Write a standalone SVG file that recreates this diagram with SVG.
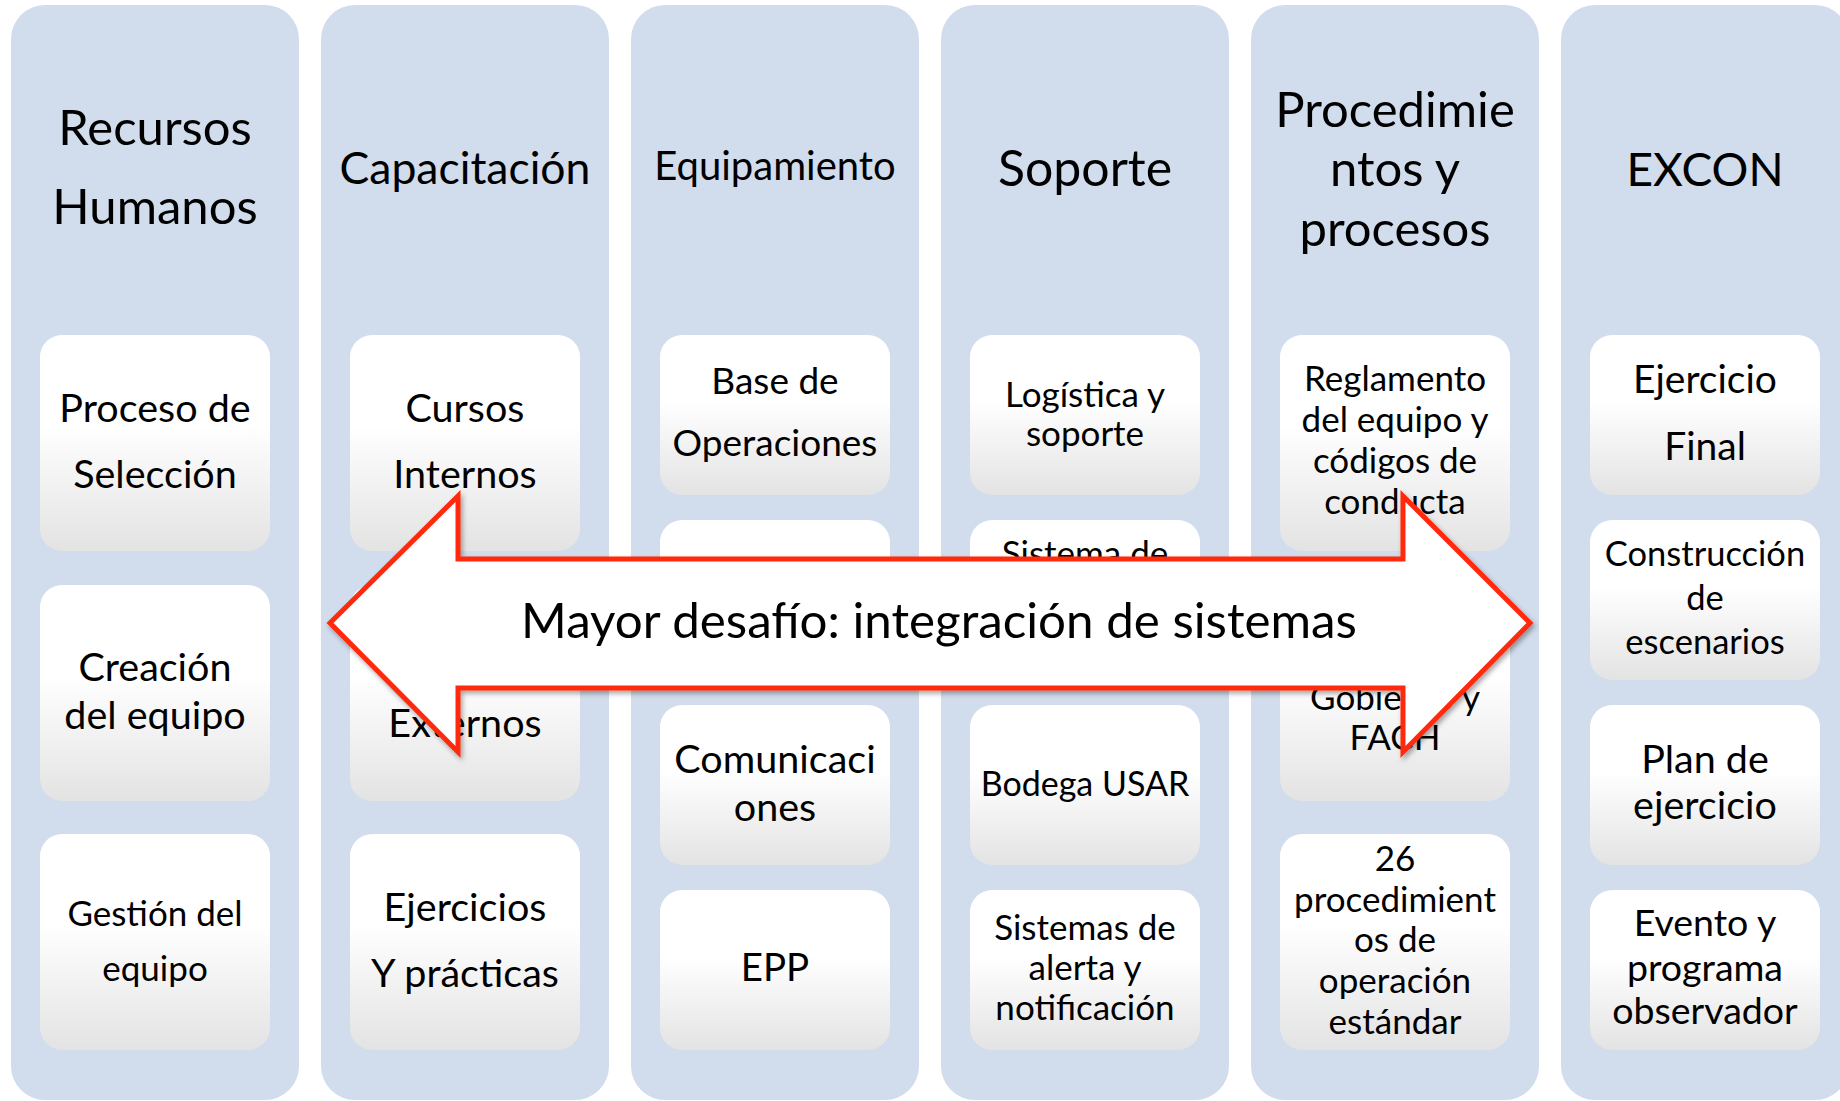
<svg xmlns="http://www.w3.org/2000/svg" width="1840" height="1101" viewBox="0 0 1840 1101">
<defs>
<linearGradient id="bg" x1="0" y1="0" x2="0" y2="1">
<stop offset="0" stop-color="#FFFFFF"/>
<stop offset="0.42" stop-color="#FFFFFF"/>
<stop offset="1" stop-color="#E3E3E3"/>
</linearGradient>
<filter id="sh" x="-5%" y="-20%" width="110%" height="140%">
<feDropShadow dx="2" dy="3" stdDeviation="2.5" flood-color="#000" flood-opacity="0.35"/>
</filter>
<style>
.col{fill:#D1DCEC}
.box{fill:url(#bg)}
text{font-family:Lato,"Open Sans","DejaVu Sans",sans-serif;fill:#000;text-anchor:middle}
.h{font-size:49px}
.t40{font-size:39.5px}
.t35{font-size:35px}
.arrow{fill:#FFFFFF;stroke:#FF2A0C;stroke-width:5;stroke-linejoin:miter}
</style>
</defs>
<rect width="1840" height="1101" fill="#FFFFFF"/>

<g id="col-recursos">
<rect class="col" x="11" y="5" width="288" height="1095" rx="34"/>
<text class="h" x="155" y="145">Recursos</text>
<text class="h" x="155" y="224">Humanos</text>
<g id="rh-1"><rect class="box" x="40" y="335" width="230" height="216" rx="22"/><text class="t40" x="155" y="422">Proceso de</text><text class="t40" x="155" y="488">Selección</text></g>
<g id="rh-2"><rect class="box" x="40" y="585" width="230" height="216" rx="22"/><text class="t40" x="155" y="681">Creación</text><text class="t40" x="155" y="729">del equipo</text></g>
<g id="rh-3"><rect class="box" x="40" y="834" width="230" height="216" rx="22"/><text class="t35" x="155" y="926">Gestión del</text><text class="t35" x="155" y="981">equipo</text></g>
</g>

<g id="col-capacitacion">
<rect class="col" x="321" y="5" width="288" height="1095" rx="34"/>
<text style="font-size:44.5px" x="465" y="184">Capacitación</text>
<g id="cap-1"><rect class="box" x="350" y="335" width="230" height="216" rx="22"/><text class="t40" x="465" y="422">Cursos</text><text class="t40" x="465" y="488">Internos</text></g>
<g id="cap-2"><rect class="box" x="350" y="585" width="230" height="216" rx="22"/><text class="t40" x="465" y="737">Externos</text></g>
<g id="cap-3"><rect class="box" x="350" y="834" width="230" height="216" rx="22"/><text class="t40" x="465" y="921">Ejercicios</text><text class="t40" x="465" y="987">Y prácticas</text></g>
</g>

<g id="col-equipamiento">
<rect class="col" x="631" y="5" width="288" height="1095" rx="34"/>
<text style="font-size:40px" x="775" y="180">Equipamiento</text>
<g id="eq-1"><rect class="box" x="660" y="335" width="230" height="160" rx="22"/><text style="font-size:37px" x="775" y="394">Base de</text><text style="font-size:37px" x="775" y="456">Operaciones</text></g>
<g id="eq-2"><rect class="box" x="660" y="520" width="230" height="160" rx="22"/></g>
<g id="eq-3"><rect class="box" x="660" y="705" width="230" height="160" rx="22"/><text class="t40" x="775" y="773">Comunicaci</text><text class="t40" x="775" y="821">ones</text></g>
<g id="eq-4"><rect class="box" x="660" y="890" width="230" height="160" rx="22"/><text style="font-size:38.5px" x="775" y="981">EPP</text></g>
</g>

<g id="col-soporte">
<rect class="col" x="941" y="5" width="288" height="1095" rx="34"/>
<text style="font-size:50px" x="1085" y="186">Soporte</text>
<g id="sop-1"><rect class="box" x="970" y="335" width="230" height="160" rx="22"/><text class="t35" x="1085" y="407">Logística y</text><text class="t35" x="1085" y="446">soporte</text></g>
<g id="sop-2"><rect class="box" x="970" y="520" width="230" height="160" rx="22"/><text class="t35" x="1085" y="566">Sistema de</text></g>
<g id="sop-3"><rect class="box" x="970" y="705" width="230" height="160" rx="22"/><text style="font-size:34px" x="1085" y="796">Bodega USAR</text></g>
<g id="sop-4"><rect class="box" x="970" y="890" width="230" height="160" rx="22"/><text class="t35" x="1085" y="940">Sistemas de</text><text class="t35" x="1085" y="980">alerta y</text><text class="t35" x="1085" y="1020">notificación</text></g>
</g>

<g id="col-procedimientos">
<rect class="col" x="1251" y="5" width="288" height="1095" rx="34"/>
<text class="h" x="1395" y="127">Procedimie</text>
<text class="h" x="1395" y="186">ntos y</text>
<text class="h" x="1395" y="246">procesos</text>
<g id="pro-1"><rect class="box" x="1280" y="335" width="230" height="216" rx="22"/><text class="t35" x="1395" y="391">Reglamento</text><text class="t35" x="1395" y="432">del equipo y</text><text class="t35" x="1395" y="473">códigos de</text><text class="t35" x="1395" y="514">conducta</text></g>
<g id="pro-2"><rect class="box" x="1280" y="585" width="230" height="216" rx="22"/><text class="t35" x="1395" y="710">Gobierno y</text><text class="t35" x="1395" y="750">FACH</text></g>
<g id="pro-3"><rect class="box" x="1280" y="834" width="230" height="216" rx="22"/><text class="t35" x="1395" y="871">26</text><text class="t35" x="1395" y="912">procedimient</text><text class="t35" x="1395" y="952">os de</text><text class="t35" x="1395" y="993">operación</text><text class="t35" x="1395" y="1034">estándar</text></g>
</g>

<g id="col-excon">
<rect class="col" x="1561" y="5" width="288" height="1095" rx="34"/>
<text style="font-size:46px" x="1705" y="186">EXCON</text>
<g id="ex-1"><rect class="box" x="1590" y="335" width="230" height="160" rx="22"/><text style="font-size:39px" x="1705" y="393">Ejercicio</text><text style="font-size:39px" x="1705" y="460">Final</text></g>
<g id="ex-2"><rect class="box" x="1590" y="520" width="230" height="160" rx="22"/><text style="font-size:34.5px" x="1705" y="566">Construcción</text><text style="font-size:34.5px" x="1705" y="610">de</text><text style="font-size:34.5px" x="1705" y="654">escenarios</text></g>
<g id="ex-3"><rect class="box" x="1590" y="705" width="230" height="160" rx="22"/><text class="t40" x="1705" y="773">Plan de</text><text class="t40" x="1705" y="819">ejercicio</text></g>
<g id="ex-4"><rect class="box" x="1590" y="890" width="230" height="160" rx="22"/><text style="font-size:37.5px" x="1705" y="936">Evento y</text><text style="font-size:37.5px" x="1705" y="981">programa</text><text style="font-size:37.5px" x="1705" y="1024">observador</text></g>
</g>

<g id="challenge-arrow">
<polygon class="arrow" filter="url(#sh)" points="330,623 458,496 458,559 1403,559 1403,496 1530,623 1403,752 1403,688 458,688 458,752"/>
<text style="font-size:49.3px" x="939" y="638">Mayor desafío: integración de sistemas</text>
</g>
</svg>
